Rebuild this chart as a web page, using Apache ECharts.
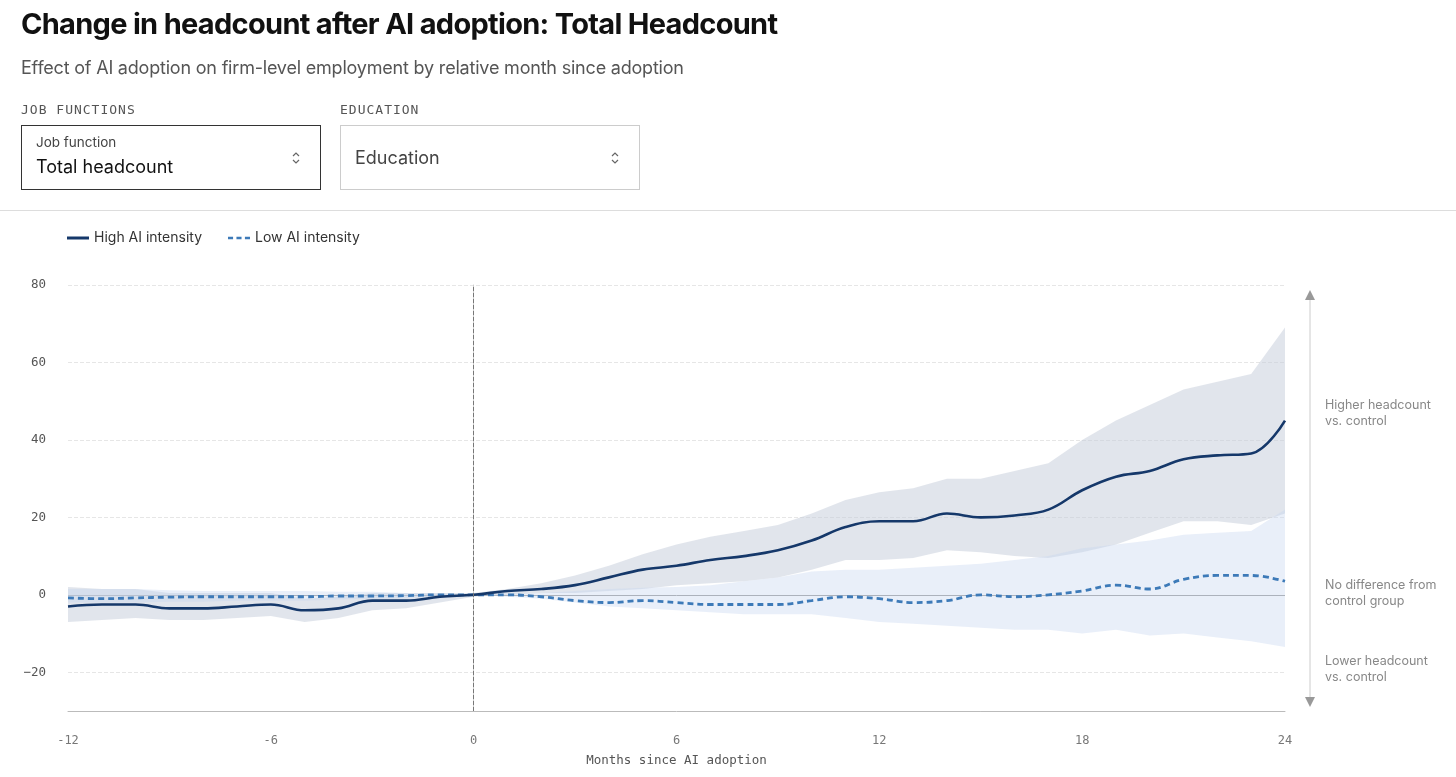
<!DOCTYPE html>
<html><head><meta charset="utf-8">
<script src="https://cdn.jsdelivr.net/npm/echarts@6/dist/echarts.min.js"></script>
<style>
body{margin:0;background:#fff;font-family:Inter,"Noto Sans",sans-serif;}
#c{position:absolute;left:0;top:0;width:1456px;height:777px;}
.abs{position:absolute;}
h1{position:absolute;left:21px;top:6px;margin:0;font-size:29px;font-weight:700;color:#111;letter-spacing:-0.7px;}
.sub{left:21px;top:57px;font-size:18px;color:#555;letter-spacing:-0.2px;}
.lab{font-family:"DejaVu Sans Mono",monospace;font-size:13px;color:#555;letter-spacing:1px;top:102px;}
.box{top:125px;height:65px;box-sizing:border-box;}
.note{font-size:12.5px;color:#888;line-height:16px;left:1325px;}
.chev{position:absolute;top:24px;width:10px;height:16px;}
</style></head><body>
<div id="c"></div>
<h1>Change in headcount after AI adoption: Total Headcount</h1>
<div class="abs sub">Effect of AI adoption on firm-level employment by relative month since adoption</div>
<div class="abs lab" style="left:21px">JOB FUNCTIONS</div>
<div class="abs lab" style="left:340px">EDUCATION</div>
<div class="abs box" style="left:21px;width:300px;border:1.5px solid #333;">
 <div class="abs" style="left:14px;top:8px;font-size:13.5px;color:#444">Job function</div>
 <div class="abs" style="left:14px;top:30px;font-size:18px;color:#111">Total headcount</div>
 <svg class="chev" style="left:269px" viewBox="0 0 10 16"><path d="M2,6 L5,3 L8,6 M2,10 L5,13 L8,10" fill="none" stroke="#666" stroke-width="1.2"/></svg>
</div>
<div class="abs box" style="left:340px;width:300px;border:1px solid #ccc;">
 <div class="abs" style="left:14px;top:21px;font-size:18px;color:#444">Education</div>
 <svg class="chev" style="left:269px" viewBox="0 0 10 16"><path d="M2,6 L5,3 L8,6 M2,10 L5,13 L8,10" fill="none" stroke="#666" stroke-width="1.2"/></svg>
</div>
<div class="abs" style="left:0;top:210px;width:1456px;height:1px;background:#ddd"></div>
<div class="abs note" style="top:397px">Higher headcount<br>vs. control</div>
<div class="abs note" style="top:577px">No difference from<br>control group</div>
<div class="abs note" style="top:653px">Lower headcount<br>vs. control</div>
<script>
const months=[-12,-11,-10,-9,-8,-7,-6,-5,-4,-3,-2,-1,0,1,2,3,4,5,6,7,8,9,10,11,12,13,14,15,16,17,18,19,20,21,22,23,24];
const highLine=[-3,-2.5,-2.5,-3.5,-3.5,-3,-2.5,-4,-3.5,-1.5,-1.5,-0.5,0,1,1.5,2.5,4.5,6.5,7.5,9,10,11.5,14,17.5,19,19,21,20,20.5,22,27,30.5,32,35,36,36.5,45];
const highUpper=[2,1.5,1.5,0.5,0.5,0.5,0.5,-1,-0.5,0.5,0.5,0.5,0.5,1.5,3,5,7.5,10.5,13,15,16.5,18,21,24.5,26.5,27.5,30,30,32,34,40,45,49,53,55,57,69];
const highLower=[-7,-6.5,-6,-6.5,-6.5,-6,-5.5,-7,-6,-4,-3.5,-2,-0.5,0,0.5,0.5,1,1.5,2.5,3,3.5,4.5,6.5,9,9,9.5,11.5,11,10,9.5,11,13,16,19,19,18,21];
const lowLine=[-0.8,-1,-0.8,-0.6,-0.5,-0.5,-0.5,-0.5,-0.3,-0.3,-0.2,0,0,0,-0.5,-1.5,-2,-1.5,-2,-2.5,-2.5,-2.5,-1.5,-0.5,-1,-2,-1.5,0,-0.5,0,1,2.5,1.5,4,5,5,3.5];
const lowUpper=[1.5,1.5,1.5,1.2,1,1,1,1,0.8,0.8,0.5,0.3,0,0.3,0.5,1,1.5,1.8,2,2.5,3.5,4.5,6,6.5,6.5,7,7.5,8,9,10,12,13,14,15.5,16,16.5,22];
const lowLower=[-2,-2,-2,-1.8,-1.8,-1.5,-1.5,-1.5,-1.2,-1,-0.8,-0.5,0,-0.5,-1,-2,-3,-3.5,-4,-4.5,-5,-5,-5,-6,-7,-7.5,-8,-8.5,-9,-9,-10,-9,-10.5,-10,-11,-12,-13.5];
const yTicks=[-20,0,20,40,60,80];
const pairs=a=>months.map((m,i)=>[m,a[i]]);
function band(lower,upper,color){
 return {type:'custom',silent:true,z:1,data:months.map((m,i)=>[m,lower[i],upper[i]]),
  renderItem:(params,api)=>{
   if(params.dataIndex!==0) return null;
   const up=months.map((m,i)=>api.coord([m,upper[i]]));
   const lo=months.map((m,i)=>api.coord([m,lower[i]])).reverse();
   return {type:'polygon',shape:{points:up.concat(lo)},style:{fill:color}};
  }};
}
const chart=echarts.init(document.getElementById('c'));
chart.setOption({
 animation:false,
 legend:{left:62,top:226,itemWidth:22,itemHeight:3,itemGap:26,textStyle:{fontSize:14,color:'#333',fontFamily:'Inter'},
  data:[{name:'High AI intensity',icon:'rect'},{name:'Low AI intensity',icon:'path://M0,0H6V3H0Z M10,0H16V3H10Z M20,0H26V3H20Z'}]},
 grid:{left:68,right:171,top:285,bottom:66},
 xAxis:{type:'value',min:-12,max:24,interval:6,axisLine:{onZero:false,lineStyle:{color:'#bbb'}},axisTick:{show:false},splitLine:{show:false},
  axisLabel:{color:'#777',fontFamily:'DejaVu Sans Mono',fontSize:12,margin:24},
  name:'Months since AI adoption',nameLocation:'middle',nameGap:43,nameTextStyle:{color:'#555',fontFamily:'DejaVu Sans Mono',fontSize:12.5}},
 yAxis:{type:'value',min:-30,max:80,interval:10,axisLine:{show:true,lineStyle:{color:'#ccc'}},axisTick:{show:false},splitLine:{show:false},
  axisLabel:{color:'#555',fontFamily:'DejaVu Sans Mono',fontSize:12.5,margin:22,formatter:v=>yTicks.includes(v)?(v<0?'\u2212'+(-v):''+v):''}},
 series:[
  {type:'line',name:'ref',data:[],z:0,markLine:{silent:true,symbol:'none',label:{show:false},z:0,data:[
    ...yTicks.filter(v=>v!==0).map(v=>({yAxis:v,lineStyle:{color:'#e6e6e6',type:'dashed',width:1}})),
    {yAxis:0,lineStyle:{color:'#999',type:'solid',width:1}}]}},
  band(highLower,highUpper,'rgba(196,204,218,0.5)'),
  band(lowLower,lowUpper,'rgba(200,216,240,0.4)'),
  {type:'line',name:'vline',data:[],z:2,markLine:{silent:true,symbol:'none',label:{show:false},data:[
    {xAxis:0,lineStyle:{color:'#777',type:'dashed',width:1}}]}},
  {type:'line',name:'Low AI intensity',z:3,data:pairs(lowLine),symbol:'none',smooth:0.4,color:'#3d7ab8',lineStyle:{width:2.8,type:[6,4],color:'#3d7ab8'}},
  {type:'line',name:'High AI intensity',z:4,data:pairs(highLine),symbol:'none',smooth:0.4,color:'#15386a',lineStyle:{width:2.6,color:'#15386a'}}
 ],
 graphic:[
  {type:'line',shape:{x1:1310,y1:298,x2:1310,y2:700},style:{stroke:'#ccc',lineWidth:1}},
  {type:'polygon',shape:{points:[[1305,300],[1315,300],[1310,290]]},style:{fill:'#999'}},
  {type:'polygon',shape:{points:[[1305,697],[1315,697],[1310,707]]},style:{fill:'#999'}}
 ]
});
</script></body></html>
